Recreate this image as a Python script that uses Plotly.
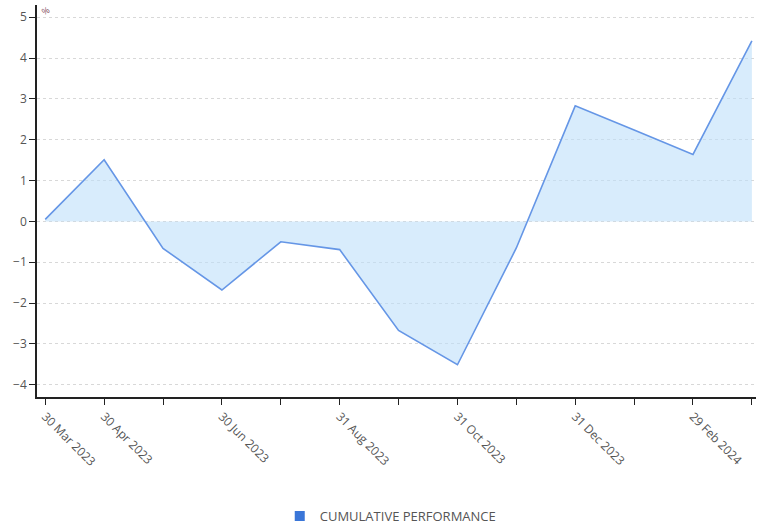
import plotly.graph_objects as go

# Month-end dates and cumulative performance (%)
dates = ["30 Mar 2023", "30 Apr 2023", "31 May 2023", "30 Jun 2023", "31 Jul 2023",
         "31 Aug 2023", "30 Sep 2023", "31 Oct 2023", "30 Nov 2023", "31 Dec 2023",
         "31 Jan 2024", "29 Feb 2024", "31 Mar 2024"]
performance = [0.05, 1.51, -0.66, -1.68, -0.5, -0.69, -2.67, -3.51, -0.65,
               2.83, 2.24, 1.64, 4.42]
tick_labels = ["30 Mar 2023", "30 Apr 2023", "", "30 Jun 2023", "", "31 Aug 2023", "",
               "31 Oct 2023", "", "31 Dec 2023", "", "29 Feb 2024", ""]
y_ticks = [-4, -3, -2, -1, 0, 1, 2, 3, 4, 5]

line_color = "#6596e6"
fill_color = "rgba(190, 224, 250, 0.6)"
legend_color = "#3a76d8"

fig = go.Figure()
fig.add_trace(go.Scatter(
    x=list(range(len(dates))), y=performance,
    mode="lines", line=dict(color=line_color, width=1.6),
    fill="tozeroy", fillcolor=fill_color,
    showlegend=False, hoverinfo="y",
))
# legend entry with a solid square swatch
fig.add_trace(go.Scatter(
    x=[None], y=[None], mode="markers",
    marker=dict(symbol="square", size=10, color=legend_color),
    name="CUMULATIVE PERFORMANCE",
))

fig.update_layout(
    width=762, height=527,
    margin=dict(l=37, r=6, t=5, b=130, autoexpand=False),
    paper_bgcolor="white", plot_bgcolor="white",
    font=dict(family="Open Sans, Arial, sans-serif", size=11, color="#555555"),
    xaxis=dict(
        range=[-0.14, 12.07], automargin=False,
        tickmode="array", tickvals=list(range(len(dates))), ticktext=tick_labels,
        tickangle=45, ticks="outside", ticklen=6, tickcolor="#222222",
        showline=True, linecolor="#222222", linewidth=1.5,
        showgrid=False, zeroline=False,
        tickfont=dict(size=12, color="#555555"),
    ),
    yaxis=dict(
        range=[-4.3, 5.3], automargin=False,
        tickmode="array", tickvals=y_ticks,
        ticks="outside", ticklen=6, tickcolor="#222222",
        showline=True, linecolor="#222222", linewidth=1.5,
        showgrid=True, gridcolor="#d8d8d8", griddash="dot", gridwidth=1,
        zeroline=False,
        tickfont=dict(size=12, color="#555555"),
    ),
    legend=dict(
        orientation="h", x=0.492, xanchor="center", y=-0.304, yanchor="middle",
        font=dict(size=13, color="#555555"), itemwidth=30,
    ),
    annotations=[dict(
        text="%", xref="paper", yref="paper", x=0.012, y=0.985,
        xanchor="center", yanchor="middle", showarrow=False, textangle=-30,
        font=dict(size=9, color="#8a5a6a"),
    )],
)

fig.write_html("out.html")
